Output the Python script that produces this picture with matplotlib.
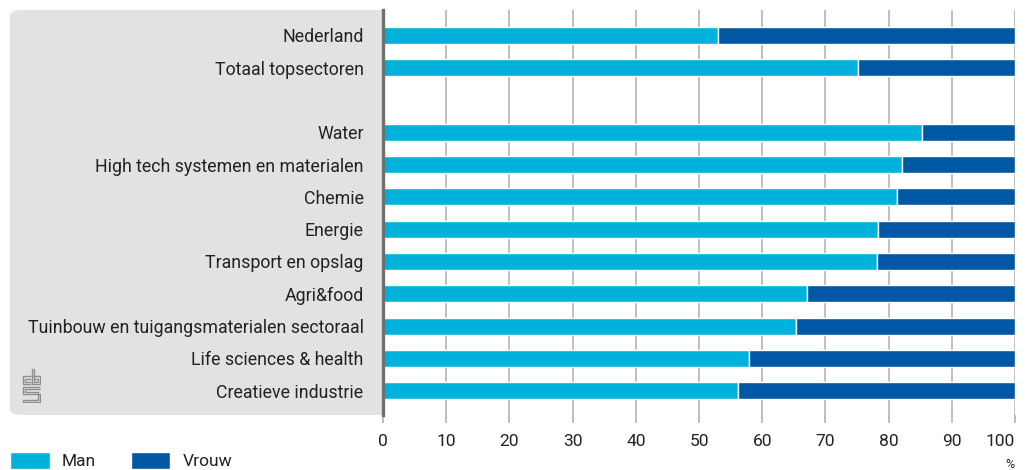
import matplotlib
matplotlib.use("Agg")
import matplotlib.pyplot as plt
from matplotlib.patches import FancyBboxPatch


# ── Data (share of workers, %) ────────────────────────────────────────────────

CATEGORIES = [
    "Nederland",
    "Totaal topsectoren",
    "",
    "Water",
    "High tech systemen en materialen",
    "Chemie",
    "Energie",
    "Transport en opslag",
    "Agri&food",
    "Tuinbouw en tuigangsmaterialen sectoraal",
    "Life sciences & health",
    "Creatieve industrie",
]
MAN   = [53.0, 75.1, None, 85.3, 82.1, 81.4, 78.4, 78.1, 67.1, 65.3, 57.9, 56.1]
VROUW = [47.0, 24.9, None, 14.7, 17.9, 18.6, 21.6, 21.9, 32.9, 34.7, 42.1, 43.9]
XTICKS = list(range(0, 101, 10))

CYAN  = "#00b1dc"
BLUE  = "#0058a5"
PANEL = "#e1e2e4"
GRID  = "#b4b4b4"
SPINE = "#707070"
TEXT  = "#222222"

plt.rcParams["font.family"] = ["Roboto", "DejaVu Sans"]

W, H = 1026, 470
fig = plt.figure(figsize=(W / 100, H / 100), dpi=100)

# grey label panel behind the category names
panel = FancyBboxPatch((10 / W, 1 - 415 / H), (395 - 10) / W, (415 - 10) / H,
                       boxstyle="round,pad=0,rounding_size=0.012",
                       transform=fig.transFigure, facecolor=PANEL,
                       edgecolor="none", zorder=-5)
fig.patches.append(panel)

ax = fig.add_axes([383 / W, 1 - 415 / H, 632 / W, 405 / H])
ax.set_facecolor("white")

pos = [i for i, v in enumerate(MAN) if v is not None]
man = [MAN[i] for i in pos]
vrouw = [VROUW[i] for i in pos]
ax.barh(pos, man, height=0.52, color=CYAN, edgecolor="white", linewidth=1.0,
        label="Man", zorder=3)
ax.barh(pos, vrouw, left=man, height=0.52, color=BLUE, edgecolor="white",
        linewidth=1.0, label="Vrouw", zorder=3)

ax.set_xlim(0, 100)
ax.set_ylim(11.75, -0.78)
ax.set_yticks(range(len(CATEGORIES)))
ax.set_yticklabels(CATEGORIES)
ax.set_xticks(XTICKS)
ax.get_xticklabels()[-1].set_horizontalalignment("right")

ax.xaxis.grid(True, color=GRID, linewidth=1.2, zorder=0)
ax.set_axisbelow(True)
ax.tick_params(axis="y", length=0, pad=14, labelsize=12.8, labelcolor=TEXT)
ax.tick_params(axis="x", length=6, width=1.2, color=GRID, pad=8,
               labelsize=12.5, labelcolor=TEXT)

for side in ("top", "right", "bottom"):
    ax.spines[side].set_visible(False)
ax.spines["left"].set_color(SPINE)
ax.spines["left"].set_linewidth(2.4)
ax.spines["left"].set_zorder(5)

fig.text(1010 / W, 1 - 464 / H, "%", ha="center", va="center",
         fontsize=9, color=TEXT)

# simple cbs logo mark in the panel
logo = fig.add_axes([22 / W, 1 - 403 / H, 19 / W, 35 / H])
logo.set_xlim(0, 17)
logo.set_ylim(0, 33)
logo.axis("off")
lc = "#8f8f8f"
kw = dict(color=lc, lw=1.0, solid_capstyle="butt")
# "c"
logo.plot([8, 0.5, 0.5, 8], [25, 25, 17.5, 17.5], **kw)
logo.plot([8, 2.5, 2.5, 8], [23, 23, 19.5, 19.5], **kw)
# "b"
logo.plot([9, 9, 16.5, 16.5, 9], [32, 17.5, 17.5, 25, 25], **kw)
logo.plot([11, 11], [32, 23], **kw)
logo.plot([11, 14.5, 14.5, 11, 11], [23, 23, 19.5, 19.5, 23], **kw)
logo.plot([9, 11], [32, 32], **kw)
# "S"
logo.plot([16.5, 0.5, 0.5, 16.5, 16.5, 0.5, 0.5],
          [15.5, 15.5, 8.5, 8.5, 0.5, 0.5, 2.5], **kw)
logo.plot([16.5, 2.5, 2.5, 14.5, 14.5, 0.5],
          [13.5, 13.5, 10.5, 10.5, 2.5, 2.5], **kw)

handles, labels = ax.get_legend_handles_labels()
fig.legend(handles, labels, loc="lower left", bbox_to_anchor=(-6 / W, -15 / H),
           ncol=2, frameon=False, fontsize=12.5, handlelength=2.3,
           handleheight=1.1, handletextpad=0.7, columnspacing=2.0,
           labelcolor=TEXT)

fig.savefig("out.png", dpi=100)
